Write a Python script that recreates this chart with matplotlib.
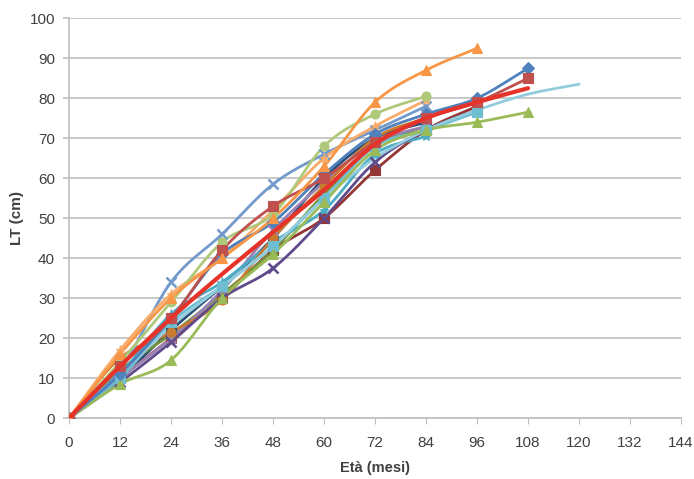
import numpy as np
import matplotlib
matplotlib.use("Agg")
import matplotlib.pyplot as plt

months = [0, 12, 24, 36, 48, 60, 72, 84, 96, 108, 120]

# values by month for each fish
s_blue_diamond = [0, 11, 25, 41, 49, 61, 71, 76, 80, 87.5]
s_red_square = [0, 13, 25, 42, 53, 60, 69, 75, 79, 85]
s_green_triangle = [0, 8.5, 14.5, 30, 41, 54, 67, 72, 74, 76.5]
s_purple_x = [0, 9, 19, 30, 37.5, 50, 64, 72, 77]
s_aqua = [0, 11, 23, 33, 43, 55, 65, 72, 77, 81, 83.5]
s_orange_circle = [0, 15, 21.5, 29.5, 45, 58, 70, 75, 79]
s_darkblue = [0, 10, 22, 33, 45, 60, 70, 74]
s_darkred = [0, 10, 20, 30, 42, 50, 62, 72, 78]
s_orange_triangle = [0, 16, 30, 40, 50, 63, 79, 87, 92.5]
s_lightgreen_circle = [0, 14, 29, 44, 51, 68, 76, 80.5]
s_lightorange = [0, 17, 31, 40, 52, 65, 73, 79.5]
s_lightblue_x = [0, 12, 34, 46, 58.5, 66, 72, 78]
s_lightaqua_square = [0, 10, 24, 33, 43, 55, 68, 72, 76.5]
s_lightpurple = [0, 10, 20, 32, 47, 59, 69, 73]
s_aqua_star = [0, 11, 26, 34, 44, 52, 66, 70.5]
s_olive = [0, 12, 21, 31, 42, 56, 68, 73]
s_mean_red = [0, 13, 25, 36, 46.5, 57, 68.5, 75, 79, 82.5]

series = [
    (s_darkblue, "#2C4D75", "P"),
    (s_darkred, "#943634", "s"),
    (s_olive, "#76923C", "^"),
    (s_lightpurple, "#9983B5", "x"),
    (s_aqua_star, "#4BACC6", "*"),
    (s_orange_circle, "#C97A2E", "o"),
    (s_purple_x, "#5F4B8B", "x"),
    (s_lightaqua_square, "#6FBDD1", "s"),
    (s_aqua, "#93CDDD", None),
    (s_green_triangle, "#9BBB59", "^"),
    (s_lightblue_x, "#729ACA", "x"),
    (s_lightorange, "#F9AB6B", "*"),
    (s_lightgreen_circle, "#AFC97A", "o"),
    (s_blue_diamond, "#4F81BD", "D"),
    (s_red_square, "#C0504D", "s"),
    (s_orange_triangle, "#F79646", "^"),
]
mean_color = "#E5332A"


def smooth(x, y, n=20):
    x = np.asarray(x, float)
    y = np.asarray(y, float)
    px = np.concatenate([[2 * x[0] - x[1]], x, [2 * x[-1] - x[-2]]])
    py = np.concatenate([[2 * y[0] - y[1]], y, [2 * y[-1] - y[-2]]])
    xs, ys = [], []
    for i in range(1, len(px) - 2):
        t = np.linspace(0, 1, n, endpoint=False)
        for arr, out in ((px, xs), (py, ys)):
            p0, p1, p2, p3 = arr[i - 1], arr[i], arr[i + 1], arr[i + 2]
            out.append(0.5 * ((2 * p1) + (-p0 + p2) * t
                              + (2 * p0 - 5 * p1 + 4 * p2 - p3) * t ** 2
                              + (-p0 + 3 * p1 - 3 * p2 + p3) * t ** 3))
    xs.append([x[-1]])
    ys.append([y[-1]])
    return np.concatenate(xs), np.concatenate(ys)


plt.rcParams['font.family'] = ['Liberation Sans Narrow', 'Liberation Sans', 'DejaVu Sans']
fig = plt.figure(figsize=(6.94, 4.79), dpi=100)
ax = fig.add_axes([0.0994, 0.127, 0.882, 0.835])

for vals, col, mk in series:
    xm = months[:len(vals)]
    sx, sy = smooth(xm, vals)
    ax.plot(sx, sy, color=col, lw=2.0, solid_capstyle='round', zorder=3)
    if mk:
        ax.plot(xm, vals, ls='none', marker=mk, color=col, ms=6.5,
                mew=1.8 if mk == 'x' else 0.8, zorder=4)

xm = months[:len(s_mean_red)]
sx, sy = smooth(xm, s_mean_red)
ax.plot(sx, sy, color=mean_color, lw=3.0, solid_capstyle='round', zorder=5)

ax.set_xlim(0, 144)
ax.set_ylim(0, 100)
ax.set_xticks(range(0, 145, 12))
ax.set_yticks(range(0, 101, 10))
ax.yaxis.grid(True, color='#BFBFBF', lw=1.2)
ax.set_axisbelow(True)
for s in ('top', 'right'):
    ax.spines[s].set_visible(False)
for s in ('left', 'bottom'):
    ax.spines[s].set_color('#BFBFBF')
    ax.spines[s].set_linewidth(1.2)
ax.tick_params(axis='x', direction='out', length=4, color='#BFBFBF', labelsize=11, pad=9,
               labelcolor='#404040')
ax.tick_params(axis='y', direction='out', length=4, color='#BFBFBF', width=1.2, labelsize=11,
               pad=6, labelcolor='#404040')
ax.set_xlabel('Età (mesi)', fontsize=10.5, fontweight='bold', color='#404040', labelpad=8,
              family=['Liberation Sans', 'DejaVu Sans'])
ax.set_ylabel('LT (cm)', fontsize=11, fontweight='bold', color='#404040', labelpad=4,
              family=['Liberation Sans', 'DejaVu Sans'])
fig.savefig('out.png', dpi=100)
